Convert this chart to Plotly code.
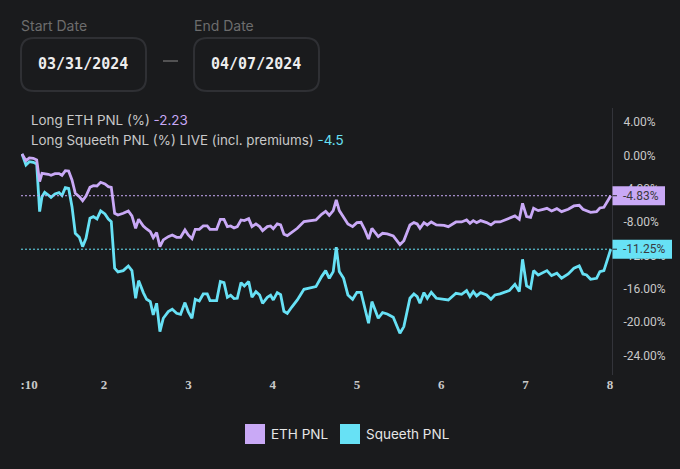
import plotly.graph_objects as go

# values
days = [1.026, 1.073, 1.113, 1.160, 1.200, 1.235, 1.263, 1.295, 1.338, 1.370, 1.417, 1.465, 1.500, 1.540, 1.579, 1.619, 1.658, 1.706, 1.745, 1.785,
        1.832, 1.872, 1.915, 1.959, 2.010, 2.050, 2.085, 2.125, 2.164, 2.227, 2.287, 2.330, 2.374, 2.409, 2.465, 2.504, 2.548, 2.583, 2.623, 2.662,
        2.702, 2.761, 2.808, 2.860, 2.907, 2.959, 2.998, 3.042, 3.081, 3.129, 3.176, 3.223,
        3.256, 3.335, 3.379, 3.422, 3.462, 3.501, 3.541, 3.580, 3.624, 3.663, 3.715, 3.754, 3.801, 3.845, 3.880, 3.936, 3.975, 4.007,
        4.054, 4.094, 4.133, 4.173, 4.224, 4.292, 4.371, 4.442, 4.513, 4.580, 4.628, 4.671, 4.718, 4.754, 4.790, 4.841, 4.892, 4.948, 4.999, 5.047,
        5.090, 5.137, 5.177, 5.252, 5.303, 5.359, 5.430, 5.509, 5.556, 5.628, 5.675, 5.714,
        5.747, 5.794, 5.834, 5.881, 5.941, 6.032, 6.083, 6.174, 6.241, 6.300, 6.340, 6.379, 6.419, 6.466, 6.538, 6.589, 6.636, 6.696,
        6.806, 6.873, 6.925, 6.964, 7.012, 7.059, 7.095, 7.150, 7.209, 7.253, 7.308, 7.371, 7.427, 7.506, 7.573, 7.636, 7.680, 7.723,
        7.771, 7.842, 7.881, 7.929, 8.010]

eth_pnl = [0.18, -0.62, -0.30, -0.34, -0.54, -3.14, -2.14, -2.18, -2.26, -2.38, -2.18, -2.18, -2.38, -1.82, -1.86, -2.94, -4.54, -4.94, -5.42, -4.86,
           -3.82, -3.62, -3.66, -3.22, -3.42, -3.74, -3.82, -6.94, -7.14, -6.94, -6.66, -7.26, -8.74, -7.66, -8.46, -8.82, -9.14, -9.86, -9.26, -10.94,
           -10.14, -9.74, -9.54, -9.82, -9.82, -8.94, -9.54, -9.98, -8.86, -8.86, -8.46, -8.46,
           -8.86, -8.86, -7.66, -7.66, -8.54, -8.46, -8.70, -8.54, -7.74, -7.82, -7.58, -8.54, -8.22, -8.54, -9.02, -8.54, -8.46, -8.78,
           -8.22, -8.34, -9.46, -9.62, -9.26, -8.74, -7.94, -7.86, -7.74, -7.06, -6.70, -7.18, -6.62, -5.34, -6.62, -7.42, -8.22, -8.54, -8.06, -8.02,
           -8.86, -10.02, -8.74, -9.74, -9.34, -9.42, -9.66, -10.70, -10.22, -8.34, -8.06, -8.22,
           -8.74, -8.06, -8.34, -7.98, -8.34, -8.38, -8.54, -7.98, -7.98, -7.74, -8.14, -7.82, -8.06, -7.82, -8.06, -8.34, -7.98, -7.98,
           -7.58, -7.26, -7.66, -5.74, -7.34, -7.42, -6.34, -6.62, -6.46, -6.34, -6.66, -6.38, -6.74, -6.46, -6.06, -5.98, -6.46, -6.62,
           -6.82, -6.74, -6.30, -6.22, -4.83]

squeeth_pnl = [0.18, -1.14, -0.74, -0.82, -1.02, -6.74, -4.94, -4.42, -4.74, -5.02, -4.62, -4.46, -4.82, -3.86, -3.94, -6.14, -9.34, -9.82, -10.94, -9.94,
               -7.54, -7.34, -7.62, -6.66, -7.02, -7.62, -7.94, -13.54, -13.98, -13.82, -13.26, -13.82, -17.14, -15.02, -16.46, -17.26, -17.54, -19.14, -17.74, -21.14,
               -19.54, -18.74, -18.46, -18.94, -19.06, -17.66, -18.74, -19.54, -17.26, -17.46, -16.62, -16.62,
               -17.42, -17.42, -15.14, -15.26, -17.02, -16.78, -17.18, -17.14, -15.26, -15.66, -15.14, -17.02, -16.34, -16.74, -17.74, -17.02, -16.78, -17.34,
               -16.46, -16.70, -18.70, -18.94, -18.22, -17.34, -16.06, -15.90, -15.74, -14.54, -13.82, -14.74, -13.94, -11.02, -13.94, -14.74, -16.74, -17.26, -16.42, -16.42,
               -18.14, -20.14, -17.54, -19.54, -18.86, -19.02, -19.42, -21.34, -20.54, -17.14, -16.62, -16.94,
               -17.74, -16.46, -17.14, -16.42, -17.14, -17.22, -17.34, -16.54, -16.66, -16.22, -16.94, -16.34, -16.86, -16.46, -16.74, -17.26, -16.74, -16.62,
               -16.22, -15.46, -16.34, -12.46, -15.66, -15.94, -13.82, -14.34, -14.06, -13.82, -14.42, -14.14, -14.74, -14.22, -13.54, -13.26, -14.22, -14.34,
               -14.86, -14.74, -13.94, -13.82, -11.25]

x_tick_vals = [1.11, 2, 3, 4, 5, 6, 7, 8]
x_tick_text = [":10", "2", "3", "4", "5", "6", "7", "8"]
y_tick_vals = [4, 0, -4, -8, -12, -16, -20, -24]
y_tick_text = ["4.00%", "0.00%", "-4.00%", "-8.00%", "-12.00%", "-16.00%", "-20.00%", "-24.00%"]

last_eth = eth_pnl[-1]
last_squeeth = squeeth_pnl[-1]

W, H = 680, 469
BG = "#1a1b1d"
ETH = "#c9a9f6"
SQUEETH = "#67e1f5"
BORDER = "#2f3034"
GREY = "#c9c9c9"
DIM = "#6d6d6d"
FONT = "Inter, sans-serif"


def px(x):
    return x / W


def py(y):
    return 1 - y / H


def box(x0, y0, x1, y1, r):
    # caja redondeada en pixeles de la pagina
    xa, xb, ya, yb = px(x0), px(x1), py(y0), py(y1)
    rx, ry = r / W, r / H
    return (f"M {xa + rx} {ya} L {xb - rx} {ya} Q {xb} {ya} {xb} {ya - ry} "
            f"L {xb} {yb + ry} Q {xb} {yb} {xb - rx} {yb} L {xa + rx} {yb} "
            f"Q {xa} {yb} {xa} {yb + ry} L {xa} {ya - ry} Q {xa} {ya} {xa + rx} {ya} Z")


def label(x, y, text, color=GREY, size=13, family=FONT, anchor="left"):
    return dict(xref="paper", yref="paper", x=px(x), y=py(y), text=text, showarrow=False,
                xanchor=anchor, yanchor="middle", align="left",
                font=dict(color=color, size=size, family=family))


fig = go.Figure()
fig.add_trace(go.Scatter(x=days, y=squeeth_pnl, mode="lines", name="Squeeth PNL",
                         line=dict(color=SQUEETH, width=2.8), showlegend=False))
fig.add_trace(go.Scatter(x=days, y=eth_pnl, mode="lines", name="ETH PNL",
                         line=dict(color=ETH, width=2.8), showlegend=False))

shapes = [
    dict(type="path", xref="paper", yref="paper", path=box(21, 38, 146, 91, 13), line=dict(color=BORDER, width=2)),
    dict(type="path", xref="paper", yref="paper", path=box(194, 38, 319, 91, 13), line=dict(color=BORDER, width=2)),
    dict(type="line", xref="paper", yref="paper", x0=px(163), x1=px(178), y0=py(61), y1=py(61),
         line=dict(color="#8a8a8a", width=1)),
    dict(type="line", xref="x domain", yref="y", x0=0, x1=1, y0=last_eth, y1=last_eth,
         line=dict(color=ETH, width=1, dash="2px,2px")),
    dict(type="line", xref="x domain", yref="y", x0=0, x1=1, y0=last_squeeth, y1=last_squeeth,
         line=dict(color=SQUEETH, width=1, dash="2px,2px")),
    dict(type="rect", xref="paper", yref="paper", x0=px(245), x1=px(265), y0=py(424), y1=py(444),
         fillcolor=ETH, line=dict(width=0)),
    dict(type="rect", xref="paper", yref="paper", x0=px(340), x1=px(360), y0=py(424), y1=py(444),
         fillcolor=SQUEETH, line=dict(width=0)),
]

annotations = [
    label(19, 26, "Start Date", DIM, 14),
    label(192, 26, "End Date", DIM, 14),
    label(83, 64, "<b>03/31/2024</b>", "#eeeeee", 15, "DejaVu Sans Mono", "center"),
    label(256, 64, "<b>04/07/2024</b>", "#eeeeee", 15, "DejaVu Sans Mono", "center"),
    label(28.5, 120, f'Long ETH PNL (%) <span style="color:{ETH}">{-2.23}</span>', GREY, 13.4),
    label(28.5, 140, f'Long Squeeth PNL (%) LIVE (incl. premiums) <span style="color:{SQUEETH}">{-4.5}</span>', GREY, 13.4),
    label(268.5, 434, "ETH PNL", "#e6e6e6", 13.5),
    label(363.5, 434, "Squeeth PNL", "#e6e6e6", 13.5),
]

# etiquetas de precio pegadas al eje: caja, marca corta y texto
for val, color, right in [(last_eth, ETH, 665), (last_squeeth, SQUEETH, 672)]:
    shapes.append(dict(type="rect", xref="paper", yref="y", x0=px(612.5), x1=px(right), y0=val - 1.14, y1=val + 1.14,
                       fillcolor=color, line=dict(width=0)))
    shapes.append(dict(type="line", xref="paper", yref="y", x0=px(612.5), x1=px(617), y0=val, y1=val,
                       line=dict(color="#2a2a2e", width=1)))
    annotations.append(dict(xref="paper", yref="y", x=px(621), y=val, text=f"-{-val:.2f}%",
                            showarrow=False, xanchor="left", yanchor="middle",
                            font=dict(color="#3a3a40", size=12, family="Roboto")))

fig.update_layout(
    width=W, height=H, margin=dict(l=0, r=0, t=0, b=0),
    paper_bgcolor=BG, plot_bgcolor=BG, showlegend=False,
    shapes=shapes, annotations=annotations,
    xaxis=dict(domain=[px(21), px(612)], range=[1.014, 8.025], showgrid=False, zeroline=False, showline=False,
               automargin=False, tickmode="array", tickvals=x_tick_vals, ticktext=x_tick_text, ticks="",
               tickfont=dict(color=GREY, size=13, family="Liberation Serif", weight=700)),
    yaxis=dict(domain=[py(375), py(108)], range=[-26.35, 5.7], side="right", showgrid=False, zeroline=False,
               automargin=False, showline=True, linecolor="#33343a", linewidth=1, tickmode="array", tickvals=y_tick_vals,
               ticktext=y_tick_text, ticks="outside", ticklen=8, tickcolor=BG,
               tickfont=dict(color=GREY, size=12, family="Roboto")),
)

fig.write_html("out.html", config=dict(displayModeBar=False),
               post_script=f"document.body.style.margin='0';document.body.style.background='{BG}';")
